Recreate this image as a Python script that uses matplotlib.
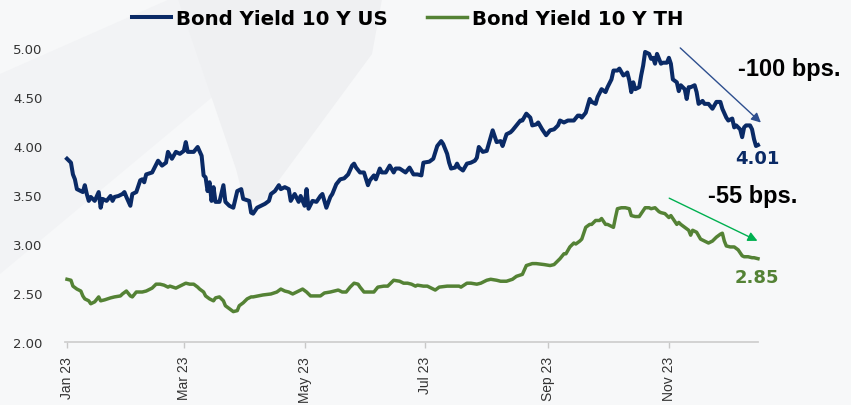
import pandas as pd
import numpy as np
import matplotlib.pyplot as plt
import matplotlib.dates as mdates
from matplotlib.patches import Polygon

# days since 1 Jan 2023 and 10Y yields (%)
us_days = [0, 2, 3, 4, 5, 7, 8, 9, 10, 11, 12, 14, 16, 17, 18, 20, 22, 23, 24, 26,
           28, 29, 30, 32, 33, 35, 37, 38, 39, 40, 43, 44, 46, 48, 50, 51, 53, 55, 57, 59,
           60, 61, 64, 66, 68, 69, 70, 71, 72, 73, 74, 75, 77, 79, 80, 82, 84, 86, 88, 89,
           92, 93, 94, 96, 98, 100, 102, 103, 105, 107, 108, 110, 112, 113, 115, 117, 118, 120, 121, 122,
           124, 126, 128, 129, 131, 133, 134, 136, 138, 140, 142, 144, 145, 146, 148, 150, 152, 153, 155, 156,
           158, 159, 161, 163, 165, 166, 168, 171, 173, 175, 177, 179, 180, 183, 185, 187, 189, 190, 192, 193,
           194, 196, 197, 198, 200, 202, 204, 206, 207, 208, 210, 212, 213, 214, 215, 217, 219, 220, 222, 224,
           225, 227, 229, 230, 232, 234, 235, 237, 238, 240, 242, 244, 246, 248, 249, 251, 253, 256, 258, 259,
           260, 262, 264, 265, 267, 268, 270, 272, 273, 275, 276, 278, 279, 281, 282, 283, 284, 285, 286, 287,
           289, 290, 291, 292, 294, 295, 296, 297, 298, 300, 301, 303, 304, 305, 306, 308, 309, 310, 312, 313,
           314, 315, 317, 318, 319, 321, 322, 324, 326, 328, 330, 331, 333, 334, 336, 337, 338, 340, 341, 342,
           343, 345, 346, 347, 348, 349]
us_yield = [3.87, 3.83, 3.71, 3.66, 3.56, 3.54, 3.53, 3.60, 3.51, 3.44, 3.48, 3.44, 3.53, 3.37, 3.46, 3.44, 3.49, 3.44, 3.48, 3.49,
            3.51, 3.53, 3.48, 3.39, 3.51, 3.53, 3.65, 3.66, 3.63, 3.71, 3.73, 3.77, 3.85, 3.80, 3.83, 3.94, 3.87, 3.94, 3.92, 3.95,
            4.04, 3.94, 3.94, 3.99, 3.90, 3.70, 3.68, 3.54, 3.63, 3.44, 3.58, 3.43, 3.43, 3.60, 3.43, 3.39, 3.37, 3.54, 3.56, 3.46,
            3.44, 3.32, 3.31, 3.37, 3.39, 3.41, 3.44, 3.51, 3.54, 3.60, 3.56, 3.58, 3.56, 3.44, 3.51, 3.43, 3.49, 3.39, 3.56, 3.36,
            3.44, 3.43, 3.49, 3.51, 3.37, 3.48, 3.51, 3.61, 3.66, 3.67, 3.71, 3.80, 3.82, 3.78, 3.73, 3.73, 3.60, 3.65, 3.70, 3.66,
            3.77, 3.73, 3.73, 3.80, 3.73, 3.77, 3.77, 3.73, 3.78, 3.71, 3.71, 3.70, 3.83, 3.84, 3.87, 4.00, 4.05, 4.02, 3.92, 3.83,
            3.77, 3.78, 3.82, 3.78, 3.75, 3.82, 3.83, 3.85, 3.88, 3.99, 3.94, 3.95, 4.02, 4.09, 4.16, 4.04, 4.05, 4.00, 4.12, 4.14,
            4.16, 4.21, 4.26, 4.26, 4.33, 4.29, 4.21, 4.22, 4.24, 4.17, 4.11, 4.16, 4.17, 4.21, 4.26, 4.24, 4.26, 4.26, 4.31, 4.31,
            4.29, 4.34, 4.48, 4.45, 4.43, 4.50, 4.58, 4.55, 4.60, 4.68, 4.77, 4.77, 4.79, 4.72, 4.73, 4.75, 4.67, 4.55, 4.65, 4.58,
            4.60, 4.72, 4.82, 4.96, 4.94, 4.89, 4.90, 4.84, 4.94, 4.84, 4.85, 4.85, 4.90, 4.84, 4.68, 4.65, 4.56, 4.62, 4.58, 4.48,
            4.60, 4.60, 4.62, 4.55, 4.43, 4.46, 4.43, 4.43, 4.38, 4.45, 4.45, 4.38, 4.29, 4.26, 4.28, 4.19, 4.21, 4.17, 4.09, 4.19,
            4.21, 4.21, 4.17, 4.07, 4.00, 4.01]

th_days = [0, 2, 3, 5, 7, 8, 9, 11, 12, 14, 16, 17, 19, 22, 24, 27, 28, 30, 32, 33,
           35, 38, 40, 43, 45, 47, 49, 51, 52, 55, 56, 58, 60, 62, 64, 66, 67, 69, 70, 72,
           74, 75, 77, 79, 80, 82, 84, 86, 87, 89, 91, 93, 94, 99, 103, 106, 108, 110, 112, 114,
           117, 119, 121, 123, 125, 128, 130, 133, 135, 137, 139, 141, 143, 145, 147, 148, 150, 152, 155, 157,
           160, 162, 163, 165, 168, 170, 172, 174, 176, 177, 180, 182, 184, 186, 188, 192, 194, 198, 199, 202,
           204, 207, 209, 212, 214, 217, 219, 222, 225, 227, 230, 232, 235, 237, 241, 244, 246, 249, 251, 252,
           254, 256, 257, 259, 260, 262, 264, 265, 267, 269, 270, 272, 273, 274, 276, 277, 278, 280, 282, 284,
           285, 287, 289, 290, 292, 294, 295, 297, 299, 300, 302, 304, 305, 306, 308, 309, 310, 312, 314, 315,
           316, 318, 320, 322, 324, 326, 328, 330, 331, 332, 333, 335, 337, 339, 341, 342, 344, 346, 347, 349]
th_yield = [2.64, 2.63, 2.57, 2.54, 2.52, 2.47, 2.44, 2.42, 2.39, 2.41, 2.46, 2.42, 2.43, 2.45, 2.46, 2.47, 2.49, 2.52, 2.47, 2.46,
            2.51, 2.51, 2.52, 2.55, 2.59, 2.59, 2.58, 2.56, 2.57, 2.55, 2.56, 2.58, 2.60, 2.59, 2.59, 2.56, 2.54, 2.51, 2.47, 2.44,
            2.42, 2.45, 2.46, 2.42, 2.37, 2.34, 2.31, 2.32, 2.37, 2.40, 2.44, 2.46, 2.46, 2.48, 2.49, 2.51, 2.54, 2.52, 2.51, 2.49,
            2.52, 2.54, 2.51, 2.47, 2.47, 2.47, 2.50, 2.51, 2.52, 2.53, 2.51, 2.51, 2.56, 2.60, 2.59, 2.56, 2.51, 2.51, 2.51, 2.56,
            2.57, 2.57, 2.59, 2.63, 2.62, 2.60, 2.60, 2.59, 2.57, 2.58, 2.57, 2.57, 2.55, 2.53, 2.56, 2.57, 2.57, 2.57, 2.56, 2.60,
            2.60, 2.59, 2.60, 2.63, 2.64, 2.63, 2.62, 2.62, 2.64, 2.67, 2.69, 2.78, 2.80, 2.80, 2.79, 2.78, 2.79, 2.85, 2.90, 2.90,
            2.97, 3.01, 3.00, 3.03, 3.05, 3.17, 3.20, 3.20, 3.24, 3.24, 3.26, 3.20, 3.20, 3.19, 3.17, 3.27, 3.36, 3.37, 3.37, 3.36,
            3.29, 3.28, 3.28, 3.31, 3.37, 3.37, 3.36, 3.37, 3.33, 3.32, 3.31, 3.27, 3.29, 3.26, 3.20, 3.22, 3.20, 3.17, 3.14, 3.09,
            3.14, 3.12, 3.05, 3.03, 3.01, 3.03, 3.07, 3.10, 3.11, 3.03, 2.98, 2.97, 2.97, 2.94, 2.88, 2.87, 2.87, 2.86, 2.86, 2.85]

tick_months = ['2023-01-01', '2023-03-01', '2023-05-01', '2023-07-01', '2023-09-01', '2023-11-01']
yticks = [2.00, 2.50, 3.00, 3.50, 4.00, 4.50, 5.00]

start = pd.Timestamp('2023-01-01')
us_dates = start + pd.to_timedelta(us_days, unit='D')
th_dates = start + pd.to_timedelta(th_days, unit='D')

navy = '#0a2a66'
green = '#548235'

fig = plt.figure(figsize=(8.51, 4.06), dpi=100, facecolor='#f7f8f9')

# faint watermark arrow behind the chart (pixel space)
bg = fig.add_axes([0, 0, 1, 1], zorder=-5)
bg.set_xlim(0, 851)
bg.set_ylim(406, 0)
bg.axis('off')
bg.add_patch(Polygon([(0, 75), (170, 0), (330, 0), (0, 275)], closed=True,
                     facecolor='#f2f3f5', edgecolor='none'))
bg.add_patch(Polygon([(178, 0), (382, 0), (372, 55), (265, 200), (245, 205), (236, 170)], closed=True,
                     facecolor='#eff0f2', edgecolor='none'))

ax = fig.add_axes([0.0764, 0.1552, 0.8143, 0.7241])
ax.patch.set_alpha(0)

ax.plot(us_dates, us_yield, color=navy, lw=2.9, label='Bond Yield 10 Y US', clip_on=False)
ax.plot(th_dates, th_yield, color=green, lw=2.5, label='Bond Yield 10 Y TH', clip_on=False)

ax.set_xlim(start - pd.Timedelta(days=1), start + pd.Timedelta(days=349))
ax.set_ylim(2.0, 5.0)
ax.set_yticks(yticks)
ax.set_yticklabels([f'{v:.2f}' for v in yticks], fontsize=9.5, color='#333333')
ax.tick_params(axis='y', length=0, pad=16)

ax.set_xticks(pd.to_datetime(tick_months))
ax.xaxis.set_major_formatter(mdates.DateFormatter('%b %y'))
ax.tick_params(axis='x', length=4, width=1, color='#c8c8c8', pad=6)
for lab in ax.get_xticklabels():
    lab.set_rotation(90)
    lab.set_family('Liberation Sans')
    lab.set_fontsize(10)
    lab.set_color('#333333')

for s in ['top', 'right', 'left']:
    ax.spines[s].set_visible(False)
ax.spines['bottom'].set_color('#d0d0d0')
ax.spines['bottom'].set_linewidth(1.3)

fig.legend(loc='center', bbox_to_anchor=(0.479, 0.951), ncol=2, frameon=False,
           handlelength=2.0, handletextpad=0.25, columnspacing=2.0,
           prop={'family': 'DejaVu Sans', 'weight': 'bold', 'size': 14.2})

# annotations
ax.annotate('', xy=(start + pd.Timedelta(days=351.5), 4.22), xytext=(start + pd.Timedelta(days=308.7), 5.02),
            arrowprops=dict(arrowstyle='-|>', color='#2e4f8f', lw=1, mutation_scale=14),
            annotation_clip=False)
ax.annotate('', xy=(start + pd.Timedelta(days=350), 3.02), xytext=(start + pd.Timedelta(days=302.9), 3.48),
            arrowprops=dict(arrowstyle='-|>', color='#00b050', lw=1, mutation_scale=14),
            annotation_clip=False)
ax.text(start + pd.Timedelta(days=365), 4.79, '-100 bps.', ha='center', va='center',
        family='Liberation Sans', weight='bold', fontsize=17, color='black', clip_on=False)
ax.text(start + pd.Timedelta(days=346.5), 3.49, '-55 bps.', ha='center', va='center',
        family='Liberation Sans', weight='bold', fontsize=17, color='black', clip_on=False)
ax.text(start + pd.Timedelta(days=348.5), 3.88, '4.01', ha='center', va='center',
        weight='bold', fontsize=13, color=navy, clip_on=False)
ax.text(start + pd.Timedelta(days=348.5), 2.66, '2.85', ha='center', va='center',
        weight='bold', fontsize=13, color=green, clip_on=False)

fig.savefig('out.png', dpi=100, facecolor=fig.get_facecolor())
